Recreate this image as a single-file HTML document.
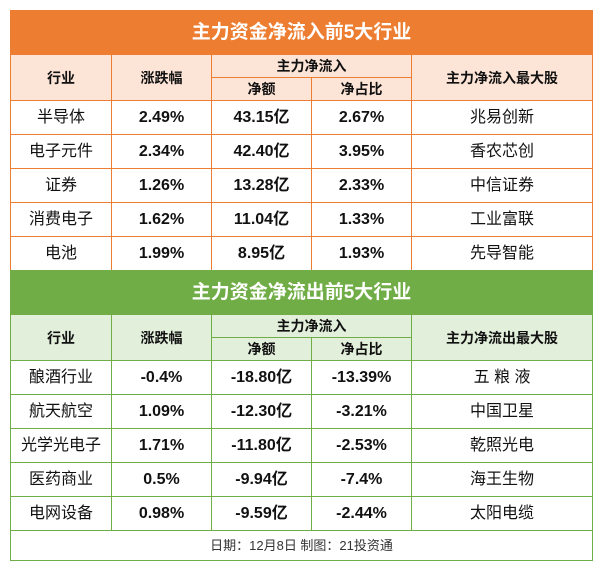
<!DOCTYPE html>
<html><head><meta charset="utf-8"><style>
body{margin:0;width:600px;height:569px;background:#fff;font-family:"Liberation Sans","Noto Sans CJK SC",sans-serif;position:relative;overflow:hidden}
table{position:absolute;left:10px;width:582px;border-collapse:collapse;table-layout:fixed}
td{padding:0;text-align:center;vertical-align:middle;color:#111;line-height:1;white-space:nowrap}
.t{color:#fff;font-weight:bold;font-size:19px}
.h{font-weight:bold;font-size:14px}
.d{font-size:16px}
.b{font-weight:bold}
#o td{border:1px solid #ed7d31}
#g td{border:1px solid #70ad47}
#o .hb{background:#fce4d6}
#g .hb{background:#e2efda}
</style></head><body>
<div id="c"></div>
<script>
function sec(id,top,col,title,hdr5,rows,rh,foot){
 var s='<table id="'+id+'" style="top:'+top+'px"><colgroup><col style="width:101px"><col style="width:100px"><col style="width:100px"><col style="width:100px"><col style="width:181px"></colgroup>';
 s+='<tr style="height:44px"><td colspan="5" class="t" style="background:'+col+'">'+title+'</td></tr>';
 s+='<tr style="height:23px"><td rowspan="2" class="h hb">行业</td><td rowspan="2" class="h hb">涨跌幅</td><td colspan="2" class="h hb">主力净流入</td><td rowspan="2" class="h hb">'+hdr5+'</td></tr>';
 s+='<tr style="height:23px"><td class="h hb">净额</td><td class="h hb">净占比</td></tr>';
 rows.forEach(function(r){s+='<tr style="height:'+rh+'px">';for(var i=0;i<5;i++)s+='<td class="d'+((i>0&&i<4)?' b':'')+'">'+r[i]+'</td>';s+='</tr>';});
 if(foot)s+='<tr style="height:30px"><td colspan="5" style="font-size:13px;color:#333">'+foot+'</td></tr>';
 return s+'</table>';
}
var o=sec('o',10,'#ed7d31','主力资金净流入前5大行业','主力净流入最大股',[
['半导体','2.49%','43.15亿','2.67%','兆易创新'],
['电子元件','2.34%','42.40亿','3.95%','香农芯创'],
['证券','1.26%','13.28亿','2.33%','中信证券'],
['消费电子','1.62%','11.04亿','1.33%','工业富联'],
['电池','1.99%','8.95亿','1.93%','先导智能']],34);
o+=sec('g',270,'#70ad47','主力资金净流出前5大行业','主力净流出最大股',[
['酿酒行业','-0.4%','-18.80亿','-13.39%','五 粮 液'],
['航天航空','1.09%','-12.30亿','-3.21%','中国卫星'],
['光学光电子','1.71%','-11.80亿','-2.53%','乾照光电'],
['医药商业','0.5%','-9.94亿','-7.4%','海王生物'],
['电网设备','0.98%','-9.59亿','-2.44%','太阳电缆']],34,'日期：12月8日 制图：21投资通');
document.getElementById('c').innerHTML=o;
</script>
</body></html>
